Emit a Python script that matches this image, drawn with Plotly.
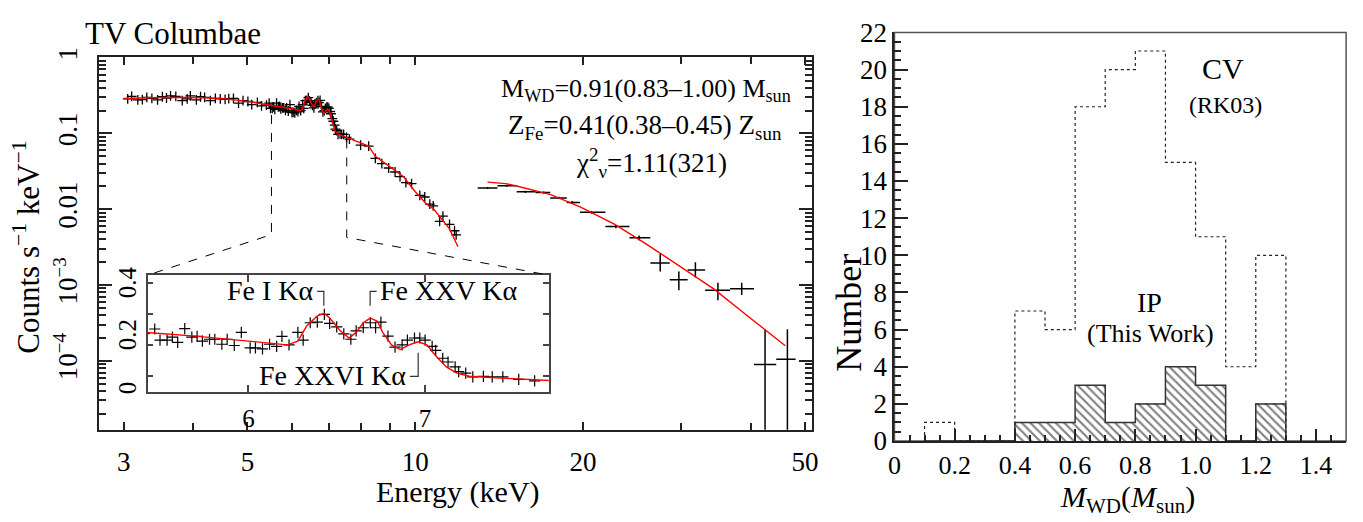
import plotly.graph_objects as go

W, H = 1363, 522
FONT = "Liberation Serif, serif"

# ---------------- data: TV Columbae spectrum ----------------
# soft band (crosses)
soft_e = [3.05, 3.10, 3.18, 3.24, 3.30, 3.37, 3.45, 3.52, 3.58, 3.64,
          3.72, 3.82, 3.90, 3.95, 4.05, 4.12, 4.19, 4.29, 4.38, 4.47,
          4.56, 4.63, 4.72, 4.82, 4.91, 5.01, 5.09, 5.21, 5.30, 5.41,
          5.47, 5.50, 5.54, 5.57, 5.60, 5.64, 5.68, 5.71, 5.74, 5.78,
          5.81, 5.85, 5.88, 5.92, 5.96, 6.01, 6.04, 6.08, 6.12, 6.16,
          6.19, 6.23, 6.28, 6.31, 6.35, 6.39, 6.43, 6.46, 6.50, 6.54,
          6.58, 6.61, 6.65, 6.69, 6.72, 6.75, 6.79, 6.83, 6.87, 6.90,
          6.94, 6.97, 7.00, 7.04, 7.06, 7.10, 7.13, 7.17, 7.19, 7.23,
          7.27, 7.33, 7.38, 7.44, 7.53, 7.62,
          7.98, 8.25, 8.48, 8.71, 8.96, 9.20, 9.39, 9.62, 9.85, 10.19,
          10.40, 10.62, 10.77, 11.06, 11.21, 11.52, 11.76, 11.84]
soft_f = [0.2855, 0.308, 0.277, 0.280, 0.299, 0.291, 0.277, 0.305, 0.294, 0.314,
          0.308, 0.272, 0.2855, 0.314, 0.277, 0.305, 0.299, 0.272, 0.291, 0.2855,
          0.282, 0.288, 0.291, 0.252, 0.272, 0.264, 0.240, 0.257, 0.231, 0.236,
          0.251, 0.215, 0.215, 0.225, 0.208, 0.252, 0.225, 0.227, 0.212, 0.218,
          0.218, 0.202, 0.218, 0.198, 0.240, 0.190, 0.190, 0.187, 0.202, 0.195,
          0.227, 0.200, 0.240, 0.215, 0.271, 0.273, 0.298, 0.269, 0.258, 0.235,
          0.218, 0.245, 0.255, 0.271, 0.255, 0.273, 0.228, 0.193, 0.200, 0.215,
          0.222, 0.222, 0.215, 0.195, 0.182, 0.157, 0.145, 0.129, 0.114, 0.109,
          0.097, 0.099, 0.097, 0.097, 0.089, 0.084,
          0.070, 0.068, 0.047, 0.040, 0.035, 0.031, 0.027, 0.0225, 0.0218, 0.0152,
          0.0145, 0.0117, 0.0111, 0.0069, 0.0081, 0.0063, 0.0052, 0.0046]

soft_model_e = [3.0, 3.5, 4.0, 4.5, 5.0, 5.42, 5.7, 6.0, 6.22, 6.28,
                6.33, 6.39, 6.43, 6.46, 6.52, 6.57, 6.61, 6.65, 6.69, 6.73,
                6.76, 6.81, 6.86, 6.91, 6.96, 7.01, 7.06, 7.12, 7.18, 7.25,
                7.38, 7.63, 8.0, 8.25, 8.48, 9.14, 9.52, 10.0, 10.47, 10.77,
                11.52, 11.93]
soft_model_f = [0.29, 0.298, 0.298, 0.29, 0.265, 0.240, 0.228, 0.212, 0.200, 0.212,
                0.261, 0.293, 0.301, 0.286, 0.245, 0.222, 0.240, 0.271, 0.286, 0.276,
                0.240, 0.200, 0.185, 0.200, 0.210, 0.200, 0.165, 0.129, 0.109, 0.099,
                0.094, 0.084, 0.074, 0.068, 0.050, 0.0334, 0.027, 0.017, 0.0117, 0.0102,
                0.0055, 0.0032]

# hard band (binned, with error bars)
hard_e = [13.48, 14.6, 15.76, 17.0, 18.1, 19.1, 20.7, 22.9, 25.2, 27.5, 29.7, 31.8, 34.9, 38.5, 42.4, 46.5]
hard_elo = [12.94, 14.04, 15.2, 16.43, 17.46, 18.70, 19.74, 21.93, 24.22, 26.4, 28.6, 30.8, 33.1, 36.7, 40.5, 44.4]
hard_ehi = [14.04, 15.2, 16.43, 17.46, 18.70, 19.74, 21.93, 24.22, 26.4, 28.6, 30.8, 33.1, 36.7, 40.5, 44.4, 48.1]
hard_f = [0.0191, 0.0204, 0.0170, 0.0166, 0.0141, 0.0123, 0.0091, 0.0059, 0.0042, 0.00195,
          0.00117, 0.00158, 0.00085, 0.00089, 8.9e-5, 1.05e-4]
hard_fhi = [0.0197, 0.0210, 0.0176, 0.0172, 0.0146, 0.0128, 0.0095, 0.0062, 0.0045, 0.00257,
            0.00151, 0.0020, 0.00107, 0.00107, 2.6e-4, 2.6e-4]
hard_flo = [0.0185, 0.0198, 0.0164, 0.0160, 0.0136, 0.0118, 0.0087, 0.0056, 0.0039, 0.00151,
            0.00085, 0.00126, 0.00063, 0.00074, 1.2e-5, 1.2e-5]

hard_model_e = [13.48, 14.53, 15.13, 17.5, 19.8, 22.8, 26.1, 29.9, 34.3, 39.3, 42.4, 46.1]
hard_model_f = [0.0228, 0.0218, 0.0204, 0.0156, 0.01064, 0.0063, 0.00339, 0.00174, 0.00089,
                0.000398, 0.000257, 0.000158]

# ---------------- data: WD mass histogram ----------------
bin_edges = [0.1, 0.2, 0.3, 0.4, 0.5, 0.6, 0.7, 0.8, 0.9, 1.0, 1.1, 1.2, 1.3]
cv_counts = [1, 0, 0, 7, 6, 18, 20, 21, 15, 11, 4, 10]
ip_counts = [0, 0, 0, 1, 1, 3, 1, 2, 4, 3, 0, 2]

mass_ticks = [0, 0.2, 0.4, 0.6, 0.8, 1.0, 1.2, 1.4]
mass_ticktext = ["0", "0.2", "0.4", "0.6", "0.8", "1.0", "1.2", "1.4"]

decades = [1e-4, 1e-3, 0.01, 0.1, 1]
decade_text = ["10<sup>−4</sup>", "10<sup>−3</sup>", "0.01", "0.1", "1"]


def px(x):
    return x / W


def py(y):
    return 1 - y / H


fig = go.Figure()

cross = dict(symbol="cross-thin", size=7, line=dict(width=1.3, color="black"), color="black")

# main panel
fig.add_trace(go.Scatter(x=soft_e, y=soft_f, mode="markers", marker=cross,
                         xaxis="x", yaxis="y", showlegend=False, hoverinfo="skip"))
fig.add_trace(go.Scatter(x=soft_model_e, y=soft_model_f, mode="lines",
                         line=dict(color="red", width=1.4), xaxis="x", yaxis="y",
                         showlegend=False))
fig.add_trace(go.Scatter(
    x=hard_e, y=hard_f, mode="markers", marker=dict(size=1, color="black"),
    error_x=dict(type="data", symmetric=False,
                 array=[h - e for h, e in zip(hard_ehi, hard_e)],
                 arrayminus=[e - l for e, l in zip(hard_e, hard_elo)],
                 width=0, thickness=1.5, color="black"),
    error_y=dict(type="data", symmetric=False,
                 array=[h - f for h, f in zip(hard_fhi, hard_f)],
                 arrayminus=[f - l for f, l in zip(hard_f, hard_flo)],
                 width=0, thickness=1.5, color="black"),
    xaxis="x", yaxis="y", showlegend=False))
fig.add_trace(go.Scatter(x=hard_model_e, y=hard_model_f, mode="lines",
                         line=dict(color="red", width=1.4), xaxis="x", yaxis="y",
                         showlegend=False))
# companion axis carrying the inside decade ticks (no labels)
fig.add_trace(go.Scatter(x=[], y=[], xaxis="x", yaxis="y4", showlegend=False))

# inset
fig.add_trace(go.Scatter(x=soft_e, y=soft_f, mode="markers",
                         marker=dict(symbol="cross-thin", size=8, line=dict(width=1.2, color="black")),
                         xaxis="x2", yaxis="y2", showlegend=False))
fig.add_trace(go.Scatter(x=soft_model_e, y=soft_model_f, mode="lines",
                         line=dict(color="red", width=1.4), xaxis="x2", yaxis="y2",
                         showlegend=False))

# histogram panel
centers = [(a + b) / 2 for a, b in zip(bin_edges[:-1], bin_edges[1:])]
fig.add_trace(go.Bar(x=centers, y=ip_counts, width=0.1, xaxis="x3", yaxis="y3",
                     marker=dict(color="white", line=dict(width=0),
                                 pattern=dict(shape="\\", fgcolor="black", bgcolor="white",
                                              size=6, solidity=0.35)),
                     showlegend=False))
step_x = [bin_edges[0]] + bin_edges[:-1] + [bin_edges[-1]]
fig.add_trace(go.Scatter(x=step_x, y=[0] + ip_counts + [0], mode="lines", line_shape="hv",
                         line=dict(color="#333", width=1.5), xaxis="x3", yaxis="y3",
                         showlegend=False))
fig.add_trace(go.Scatter(x=step_x, y=[0] + cv_counts + [0], mode="lines", line_shape="hv",
                         line=dict(color="#222", width=1.2, dash="dot"), xaxis="x3", yaxis="y3",
                         showlegend=False))

# minor tick values
y_minor = [k * 10 ** d for d in range(-5, 0) for k in range(2, 10)]
x_minor = [4, 6, 7, 8, 9, 30, 40]

tickfont = dict(family=FONT, size=27, color="black")
LC = "#222"
YDOM = [py(440), py(44.5)]
YRANGE = [-4.91, 0.01]

fig.update_layout(
    width=W, height=H, margin=dict(l=0, r=0, t=0, b=0),
    paper_bgcolor="white", plot_bgcolor="white",
    font=dict(family=FONT, color="black"),
    xaxis=dict(type="log", domain=[px(93), px(813)], range=[0.433, 1.712], anchor="y",
               tickmode="array", tickvals=[3, 5, 10, 20, 50], ticktext=["3", "5", "10", "20", "50"],
               ticks="inside", ticklen=8, tickwidth=1.5, tickcolor=LC, ticklabelstandoff=7,
               minor=dict(tickmode="array", tickvals=x_minor, ticks="inside", ticklen=7,
                          tickwidth=1.5, tickcolor=LC),
               showline=True, linewidth=2, linecolor=LC, mirror="ticks",
               showgrid=False, zeroline=False, tickfont=tickfont),
    yaxis=dict(type="log", domain=YDOM, range=YRANGE, anchor="x",
               tickmode="array", tickvals=decades, ticktext=decade_text,
               tickangle=-90, ticks="outside", ticklen=9, tickwidth=1,
               tickcolor="rgba(0,0,0,0)",
               minor=dict(tickmode="array", tickvals=y_minor, ticks="inside", ticklen=7,
                          tickwidth=1.5, tickcolor=LC),
               showline=True, linewidth=2, linecolor=LC, mirror=True,
               showgrid=False, zeroline=False, tickfont=tickfont),
    yaxis4=dict(type="log", domain=YDOM, range=YRANGE, anchor="x", overlaying="y",
                tickmode="array", tickvals=decades, showticklabels=False,
                ticks="inside", ticklen=13, tickwidth=1.5, tickcolor=LC,
                minor=dict(tickmode="array", tickvals=y_minor, ticks="inside", ticklen=7,
                           tickwidth=1.5, tickcolor=LC),
                showline=False, mirror="ticks",
                showgrid=False, zeroline=False),
    xaxis2=dict(domain=[px(142), px(547)], range=[5.43, 7.70], anchor="y2",
                tickmode="array", tickvals=[6, 7], ticktext=["6", "7"],
                ticks="inside", ticklen=7, tickwidth=1.5, tickcolor="#444",
                ticklabelstandoff=3,
                showline=True, linewidth=1.5, linecolor="#444", mirror="ticks",
                showgrid=False, zeroline=False, tickfont=dict(family=FONT, size=25)),
    yaxis2=dict(domain=[py(400), py(276)], range=[0.0485, 0.424], anchor="x2",
                tickmode="array", tickvals=[0.049, 0.221, 0.388], ticktext=["0", "0.2", "0.4"],
                tickangle=-90, ticks="inside", ticklen=0,
                minor=dict(tickmode="array", tickvals=[0.1, 0.2, 0.3, 0.4], ticks="inside",
                           ticklen=6, tickwidth=1.5, tickcolor="#444"),
                showline=True, linewidth=1.5, linecolor="#444", mirror="ticks",
                showgrid=False, zeroline=False, tickfont=dict(family=FONT, size=25)),
    xaxis3=dict(domain=[px(896), px(1352)], range=[0, 1.5], anchor="y3",
                tickmode="array", tickvals=mass_ticks, ticktext=mass_ticktext,
                ticks="inside", ticklen=12, tickwidth=1.5, tickcolor=LC,
                minor=dict(dtick=0.05, ticks="inside", ticklen=6, tickwidth=1.5, tickcolor=LC),
                showline=True, linewidth=2, linecolor=LC,
                showgrid=False, zeroline=False, tickfont=dict(family=FONT, size=26, color="black")),
    yaxis3=dict(domain=[py(452), py(18.5)], range=[0, 22], anchor="x3",
                dtick=2, ticks="inside", ticklen=14, tickwidth=1.5, tickcolor=LC,
                minor=dict(dtick=0.5, ticks="inside", ticklen=7, tickwidth=1.5, tickcolor=LC),
                showline=True, linewidth=2, linecolor=LC,
                showgrid=False, zeroline=False, tickfont=tickfont),
    bargap=0,
)

shapes = []
# frame for the histogram panel (top/right in lighter gray)
shapes.append(dict(type="rect", xref="x3 domain", yref="y3 domain", x0=0, x1=1, y0=0, y1=1,
                   line=dict(color="#555", width=1.5), layer="below"))
# zoom guide lines from main spectrum to inset
dash = dict(color="black", width=1, dash="dash")
shapes.append(dict(type="path", xref="paper", yref="paper",
                   path=f"M {px(267)},{py(106)} L {px(267)},{py(233)} L {px(142)},{py(276)}",
                   line=dash))
shapes.append(dict(type="path", xref="paper", yref="paper",
                   path=f"M {px(343)},{py(132)} L {px(343)},{py(236)} L {px(547)},{py(276)}",
                   line=dash))
# line-label brackets in the inset
br = dict(color="#333", width=1.2)
shapes.append(dict(type="path", xref="x2", yref="y2",
                   path="M 6.389,0.372 L 6.427,0.372 L 6.427,0.326", line=br))
shapes.append(dict(type="path", xref="x2", yref="y2",
                   path="M 6.689,0.326 L 6.689,0.372 L 6.726,0.372", line=br))
shapes.append(dict(type="path", xref="x2", yref="y2",
                   path="M 6.914,0.099 L 6.961,0.099 L 6.961,0.175", line=br))
fig.update_layout(shapes=shapes)

ann = []


def txt(text, x, y, size, xanchor="center", yanchor="middle", angle=0, xref="paper", yref="paper"):
    ann.append(dict(text=text, x=x, y=y, xref=xref, yref=yref, showarrow=False,
                    xanchor=xanchor, yanchor=yanchor, textangle=angle,
                    font=dict(family=FONT, size=size, color="black")))


txt("TV Columbae", px(77), py(20), 31, xanchor="left")
txt("M<sub>WD</sub>=0.91(0.83–1.00) M<sub>sun</sub>", px(645), py(80), 26)
txt("Z<sub>Fe</sub>=0.41(0.38–0.45) Z<sub>sun</sub>", px(644), py(119), 27)
txt("χ<sup>2</sup><sub>ν</sub>=1.11(321)", px(651), py(157), 27)
txt("Counts s<sup>−1</sup> keV<sup>−1</sup>", px(20), py(246), 31, angle=-90)
txt("Energy (keV)", px(455), py(486), 30, yanchor="top")
txt("Fe I Kα", 6.38, 0.374, 28, xanchor="right", xref="x2", yref="y2")
txt("Fe XXV Kα", 6.735, 0.374, 28, xanchor="left", xref="x2", yref="y2")
txt("Fe XXVI Kα", 6.905, 0.103, 28, xanchor="right", xref="x2", yref="y2")
txt("Number", px(850), py(316), 36, angle=-90)
txt("<i>M</i><sub>WD</sub>(<i>M</i><sub>sun</sub>)", px(1131), py(491), 30, yanchor="top")
txt("CV", px(1228), py(57), 30)
txt("(RK03)", px(1230), py(95), 24)
txt("IP", px(1154), py(305), 28)
txt("(This Work)", px(1155), py(338), 26)
fig.update_layout(annotations=ann)

fig.write_html("out.html")
